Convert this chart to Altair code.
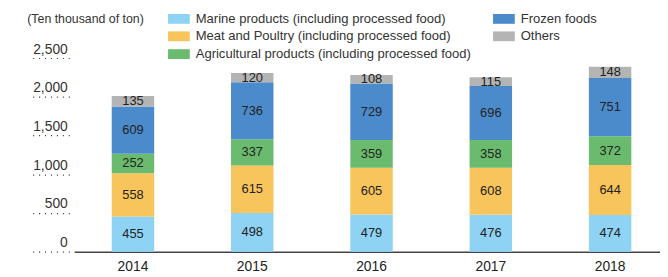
import altair as alt
import pandas as pd

years = ["2014", "2015", "2016", "2017", "2018"]
categories = [
    "Marine products (including processed food)",
    "Meat and Poultry (including processed food)",
    "Agricultural products (including processed food)",
    "Frozen foods",
    "Others",
]
colors = ["#8FD3F4", "#F8C45C", "#6BBB6E", "#4C8BCB", "#B4B4B4"]
marine = [455, 498, 479, 476, 474]
meat = [558, 615, 605, 608, 644]
agri = [252, 337, 359, 358, 372]
frozen = [609, 736, 729, 696, 751]
others = [135, 120, 108, 115, 148]
y_ticks = [0, 500, 1000, 1500, 2000, 2500]
unit_label = "(Ten thousand of ton)"

series = [marine, meat, agri, frozen, others]
rows = []
for ci, (cat, vals) in enumerate(zip(categories, series)):
    for yr, v in zip(years, vals):
        rows.append({"year": yr, "category": cat, "value": v, "order": ci})
df = pd.DataFrame(rows)

FONT = "Liberation Sans"

base = alt.Chart(df).transform_stack(
    stack="value", as_=["y0", "y1"], groupby=["year"], sort=[alt.SortField("order")]
).transform_calculate(mid="(datum.y0 + datum.y1) / 2")

xaxis = alt.Axis(
    title=None, ticks=False, domain=True, domainColor="#444444", domainWidth=1.5,
    labelFont=FONT, labelFontSize=14, labelColor="#222222", labelPadding=8,
    labelAngle=0,
)
xscale = alt.Scale(paddingInner=0.644, paddingOuter=0.2775, align=0.567)

yaxis = alt.Axis(
    values=y_ticks, format=",d", grid=False, domain=False, offset=5,
    tickSize=38, tickDash=[1, 5], tickColor="#333333", tickWidth=1.2,
    labelFont=FONT, labelFontSize=14, labelColor="#333333",
    labelPadding=-36, labelBaseline="alphabetic", labelOffset=-5,
    labelOverlap=False, labelFlush=False, labelBound=False,
    title=unit_label, titleAngle=0, titleAlign="left", titleBaseline="middle",
    titleX=-43, titleY=-40, titleFont=FONT, titleFontSize=12.5,
    titleFontWeight="normal", titleColor="#333333",
)
yscale = alt.Scale(domain=[0, 2500], nice=False)

bars = base.mark_bar().encode(
    x=alt.X("year:N", sort=years, scale=xscale, axis=xaxis),
    y=alt.Y("y0:Q", scale=yscale, axis=yaxis),
    y2="y1:Q",
    color=alt.Color(
        "category:N",
        scale=alt.Scale(domain=categories, range=colors),
        legend=alt.Legend(
            title=None, orient="none", legendX=95, legendY=-51, columns=2,
            columnPadding=22, rowPadding=0,
            symbolType="M-1,-0.45H1V0.45H-1Z", symbolSize=484, symbolStrokeWidth=0,
            symbolOpacity=1, labelFont=FONT, labelFontSize=13.2, labelColor="#333333",
            labelOffset=6, labelLimit=400,
        ),
    ),
)

labels = base.mark_text(font=FONT, fontSize=13, color="#222222").encode(
    x=alt.X("year:N", sort=years, scale=xscale, axis=xaxis),
    y=alt.Y("mid:Q", scale=yscale, axis=yaxis),
    text=alt.Text("value:Q"),
)

chart = alt.layer(bars, labels).properties(
    width=593, height=196,
    autosize=alt.AutoSizeParams(type="none"),
    padding={"left": 67, "top": 49, "right": 0, "bottom": 24},
).configure_view(stroke=None).configure_axis(labelOverlap=False)

chart.save("out.html", embed_options={"renderer": "svg", "actions": False})
